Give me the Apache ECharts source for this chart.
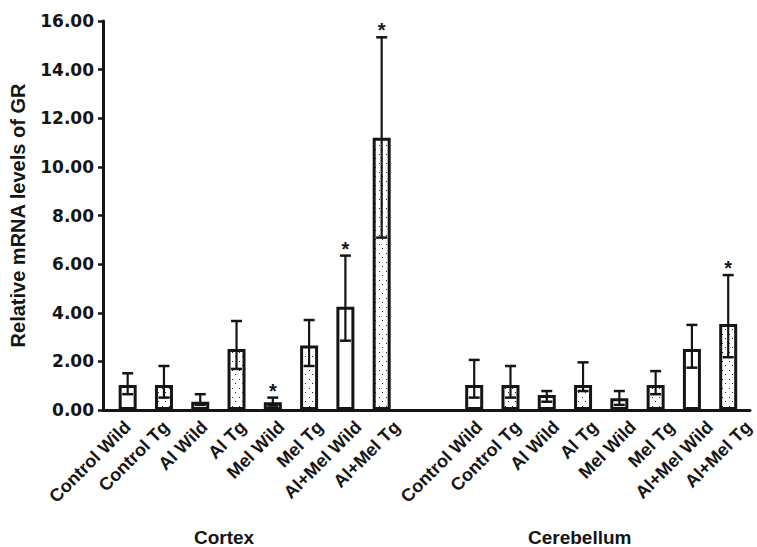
<!DOCTYPE html>
<html><head><meta charset="utf-8">
<script src="https://cdn.jsdelivr.net/npm/echarts@6/dist/echarts.min.js"></script>
<style>html,body{margin:0;padding:0;background:#fff}#c{width:757px;height:547px}</style>
</head><body><div id="c"></div>
<script>
// ---- data ----
const groups = ['Cortex', 'Cerebellum'];
const categories = ['Control Wild', 'Control Tg', 'Al Wild', 'Al Tg', 'Mel Wild', 'Mel Tg', 'Al+Mel Wild', 'Al+Mel Tg'];
const cortexMean = [1.03, 1.03, 0.34, 2.51, 0.32, 2.65, 4.25, 11.20];
const cortexErrHigh = [1.51, 1.81, 0.65, 3.66, 0.51, 3.70, 6.35, 15.33];
const cortexErrLow = [0.65, 0.51, 0.21, 1.69, 0.18, 1.81, 2.85, 7.09];
const cortexSig = [0, 0, 0, 0, 1, 0, 1, 1];
const cerebMean = [1.03, 1.03, 0.62, 1.03, 0.48, 1.03, 2.51, 3.54];
const cerebErrHigh = [2.06, 1.81, 0.78, 1.96, 0.78, 1.60, 3.50, 5.55];
const cerebErrLow = [0.51, 0.51, 0.34, 0.78, 0.21, 0.65, 1.74, 2.17];
const cerebSig = [0, 0, 0, 0, 0, 0, 0, 1];
const yTicks = [0, 2, 4, 6, 8, 10, 12, 14, 16];

// ---- layout ----
const groupOffset = 9.55;            // bar start of each group, in category units
const labelGroupStart = [0, 9.69];   // label anchors start of each group
const labelStep = 1.06;              // label spacing (slightly wider than bars)
const means = [cortexMean, cerebMean];
const highs = [cortexErrHigh, cerebErrHigh];
const lows = [cortexErrLow, cerebErrLow];
const sigs = [cortexSig, cerebSig];

// dotted pattern for Tg bars
const pc = document.createElement('canvas');
pc.width = 7; pc.height = 9;
const pctx = pc.getContext('2d');
pctx.fillStyle = '#ffffff'; pctx.fillRect(0, 0, 7, 9);
pctx.fillStyle = '#2a2a2a';
pctx.fillRect(1, 1, 1, 1);
pctx.fillRect(4, 5, 1, 1);
const dotPattern = { image: pc, repeat: 'repeat' };

const labelPositions = [];
const posLabels = [];
const barData = [];
const errData = [];
groups.forEach((g, gi) => {
  categories.forEach((c, i) => {
    const x = gi * groupOffset + i;
    labelPositions.push(labelGroupStart[gi] + i * labelStep);
    posLabels.push(c);
    const isTg = / Tg$/.test(c);
    barData.push({ value: [x, means[gi][i]], itemStyle: { color: isTg ? dotPattern : '#ffffff' } });
    errData.push([x, lows[gi][i], highs[gi][i], sigs[gi][i]]);
  });
});
function labelAt(v) {
  for (let k = 0; k < labelPositions.length; k++) if (Math.abs(labelPositions[k] - v) < 1e-6) return posLabels[k];
  return '';
}

const INK = '#151515';
const chart = echarts.init(document.getElementById('c'), null, { renderer: 'svg' });
chart.setOption({
  animation: false,
  backgroundColor: '#ffffff',
  grid: { left: 100, right: 0, top: 21, bottom: 137 },
  xAxis: {
    type: 'value', min: -0.68, max: 17.15,
    axisLine: { show: true, onZero: false, lineStyle: { color: INK, width: 3 } },
    axisTick: { show: false },
    splitLine: { show: false },
    axisLabel: {
      customValues: labelPositions,
      formatter: v => labelAt(v),
      rotate: 45, margin: 14,
      fontFamily: 'Liberation Sans', fontWeight: 'bold', fontSize: 18, color: INK
    }
  },
  yAxis: {
    type: 'value', min: 0, max: 16, interval: 2,
    axisLine: { show: true, onZero: false, lineStyle: { color: INK, width: 3 } },
    axisTick: { show: true, inside: false, length: 5, customValues: yTicks, lineStyle: { color: INK, width: 2.5 } },
    splitLine: { show: false },
    axisLabel: {
      customValues: yTicks,
      formatter: v => Number(v).toFixed(2),
      fontFamily: 'DejaVu Sans', fontWeight: 'bold', fontSize: 17, color: INK, margin: 9
    },
    name: 'Relative mRNA levels of GR',
    nameLocation: 'middle', nameGap: 75,
    nameTextStyle: { fontFamily: 'Liberation Sans', fontWeight: 'bold', fontSize: 20, color: INK }
  },
  series: [
    {
      type: 'bar', barWidth: 18, data: barData,
      itemStyle: { borderColor: INK, borderWidth: 3 },
      z: 2
    },
    {
      type: 'custom', data: errData, z: 3,
      encode: { x: 0, y: [1, 2] },
      renderItem: function (params, api) {
        const x = api.value(0), lo = api.value(1), hi = api.value(2), sig = api.value(3);
        const pHi = api.coord([x, hi]);
        const pLo = api.coord([x, lo]);
        const cw = 5.5;
        const st = { stroke: INK, lineWidth: 2.5 };
        const children = [
          { type: 'line', shape: { x1: pHi[0], y1: pHi[1], x2: pLo[0], y2: pLo[1] }, style: { stroke: INK, lineWidth: 2.2 } },
          { type: 'line', shape: { x1: pHi[0] - cw, y1: pHi[1], x2: pHi[0] + cw, y2: pHi[1] }, style: st },
          { type: 'line', shape: { x1: pLo[0] - cw, y1: pLo[1], x2: pLo[0] + cw, y2: pLo[1] }, style: st }
        ];
        if (sig) {
          children.push({
            type: 'text', x: pHi[0], y: pHi[1] - 7,
            style: { text: '*', fill: INK, fontFamily: 'Liberation Sans', fontWeight: 'bold', fontSize: 20, align: 'center', verticalAlign: 'middle' }
          });
        }
        return { type: 'group', children: children };
      }
    }
  ],
  graphic: [
    { type: 'text', left: 224 - 30, top: 528, style: { text: groups[0], fill: INK, fontFamily: 'Liberation Sans', fontWeight: 'bold', fontSize: 19 } },
    { type: 'text', left: 579 - 51, top: 528, style: { text: groups[1], fill: INK, fontFamily: 'Liberation Sans', fontWeight: 'bold', fontSize: 19 } }
  ]
});
</script>
</body></html>
